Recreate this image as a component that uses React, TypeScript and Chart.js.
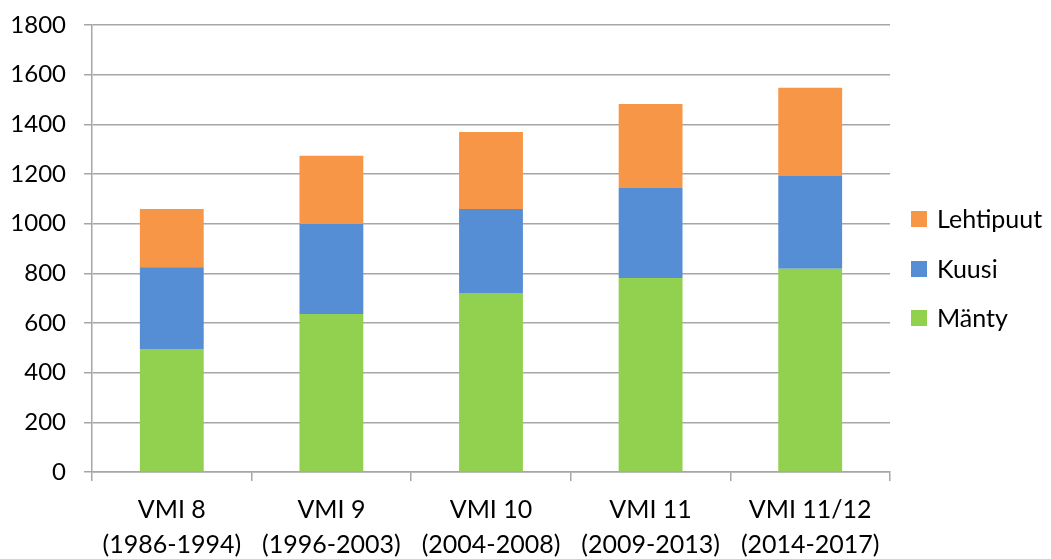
import React, { useEffect, useRef } from "react";
import { Chart, registerables } from "chart.js";

Chart.register(...registerables);

const categories: string[][] = [
  ["VMI 8", "(1986-1994)"],
  ["VMI 9", "(1996-2003)"],
  ["VMI 10", "(2004-2008)"],
  ["VMI 11", "(2009-2013)"],
  ["VMI 11/12", "(2014-2017)"],
];
const manty = [495, 636, 721, 781, 818];
const kuusi = [330, 363, 338, 363, 374];
const lehtipuut = [234, 274, 310, 338, 355];
const yTicks = [0, 200, 400, 600, 800, 1000, 1200, 1400, 1600, 1800];

const FONT = "Lato, 'Open Sans', sans-serif";

export default function App() {
  const ref = useRef<HTMLCanvasElement | null>(null);
  useEffect(() => {
    if (!ref.current) return;
    const legendItems = [
      { label: "Lehtipuut", color: "#F79646" },
      { label: "Kuusi", color: "#558ED5" },
      { label: "Mänty", color: "#92D050" },
    ];
    const legendPlugin = {
      id: "customLegend",
      afterDraw(chart: any) {
        const ctx = chart.ctx;
        ctx.save();
        ctx.font = `25px ${FONT}`;
        ctx.textBaseline = "middle";
        ctx.textAlign = "left";
        const ys = [219, 269, 318];
        legendItems.forEach((it, i) => {
          ctx.fillStyle = it.color;
          ctx.fillRect(911, ys[i] - 8, 16, 16);
          ctx.fillStyle = "#000";
          ctx.fillText(it.label, 937, ys[i] + 1);
        });
        ctx.restore();
      },
    };
    const chart = new Chart(ref.current, {
      type: "bar",
      data: {
        labels: categories,
        datasets: [
          { label: "Mänty", data: manty, backgroundColor: "#92D050", borderWidth: 0 },
          { label: "Kuusi", data: kuusi, backgroundColor: "#558ED5", borderWidth: 0 },
          { label: "Lehtipuut", data: lehtipuut, backgroundColor: "#F79646", borderWidth: 0 },
        ],
      },
      options: {
        animation: false,
        responsive: true,
        maintainAspectRatio: false,
        layout: { padding: { top: 25, right: 161, bottom: 0, left: 0 } },
        datasets: { bar: { categoryPercentage: 1, barPercentage: 0.4 } },
        plugins: { legend: { display: false }, tooltip: { enabled: false } },
        scales: {
          x: {
            stacked: true,
            grid: {
              offset: true,
              drawOnChartArea: false,
              drawTicks: true,
              tickLength: 9,
              color: "#a6a6a6",
              lineWidth: 1.5,
            },
            border: { display: true, color: "#a6a6a6", width: 1.5 },
            ticks: {
              color: "#000",
              padding: 11,
              maxRotation: 0,
              autoSkip: false,
              font: { family: FONT, size: 25, lineHeight: 1.4 },
            },
            afterFit(scale: any) {
              scale.height = 559 - 472;
              scale.paddingLeft = 0;
              scale.paddingRight = 0;
            },
          },
          y: {
            stacked: true,
            min: 0,
            max: 1800,
            afterBuildTicks(scale: any) {
              scale.ticks = yTicks.map((v) => ({ value: v }));
            },
            grid: {
              color: "#a6a6a6",
              lineWidth: 1.5,
              drawTicks: true,
              tickLength: 8,
            },
            border: { display: true, color: "#a6a6a6", width: 1.5 },
            ticks: {
              color: "#000",
              padding: 18,
              font: { family: FONT, size: 24 },
              callback: (v: any) => String(v),
            },
            afterFit(scale: any) {
              scale.width = 92;
              scale.paddingTop = 0;
              scale.paddingBottom = 0;
            },
          },
        },
      },
      plugins: [legendPlugin],
    });
    return () => chart.destroy();
  }, []);
  return (
    <div style={{ position: "absolute", left: 0, top: 0, width: 1051, height: 559, background: "#fff" }}>
      <canvas ref={ref} />
    </div>
  );
}
